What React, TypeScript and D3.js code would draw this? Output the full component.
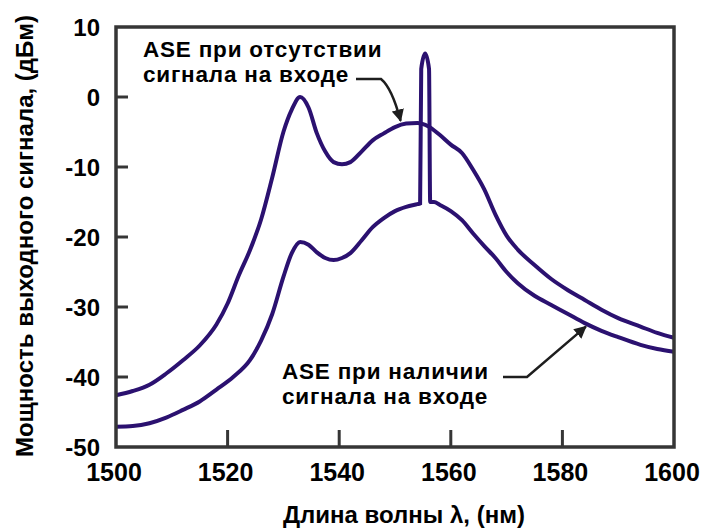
import React from "react";
import * as d3 from "d3";

// Wavelength (nm) and output power (dBm): ASE without input signal
const lambdaNoSignal = [1500, 1503, 1506, 1509, 1512, 1515, 1518, 1520, 1522, 1524, 1526, 1528, 1530, 1531.5, 1533, 1534.5, 1536, 1537.5, 1539, 1540.5, 1542, 1544, 1546, 1548, 1550, 1552, 1554, 1556, 1558, 1560, 1562, 1564, 1566, 1568, 1570, 1572, 1575, 1578, 1581, 1584, 1587, 1590, 1594, 1597, 1600];
const powerNoSignal = [-42.6, -42.0, -41.1, -39.5, -37.6, -35.5, -32.5, -29.5, -25.5, -21.9, -17.5, -11.5, -5.0, -1.8, 0, -1.5, -5.2, -7.8, -9.3, -9.6, -9.3, -7.8, -6.2, -5.2, -4.3, -3.8, -3.7, -4.2, -5.4, -6.8, -8.0, -10.4, -13.2, -16.8, -19.8, -21.8, -24.0, -26.0, -27.6, -29.0, -30.4, -31.6, -32.8, -33.7, -34.4];

// ASE with input signal (includes signal spike near 1555 nm)
const lambdaWithSignal = [1500, 1503, 1506, 1509, 1512, 1515, 1518, 1521, 1524, 1526, 1528, 1530, 1531.5, 1533, 1534.5, 1536, 1537.5, 1539, 1540.5, 1542, 1544, 1546, 1548, 1550, 1552, 1554, 1554.5, 1554.7, 1555.4, 1556.1, 1556.3, 1557, 1558, 1560, 1562, 1564, 1566, 1568, 1570, 1572, 1575, 1578, 1581, 1584, 1587, 1590, 1594, 1597, 1600];
const powerWithSignal = [-47.1, -47.0, -46.6, -45.8, -44.7, -43.5, -41.8, -40.0, -37.6, -34.8, -31.0, -25.7, -22.3, -20.7, -21.1, -22.2, -23.0, -23.3, -23.0, -22.3, -20.5, -18.6, -17.3, -16.3, -15.7, -15.3, -15.2, 4.0, 6.2, 4.0, -15.0, -15.0, -15.4, -16.3, -17.6, -19.5, -21.3, -23.0, -25.0, -26.6, -28.4, -29.7, -31.0, -32.3, -33.4, -34.3, -35.4, -36.0, -36.4];

const xTicks = [1500, 1520, 1540, 1560, 1580, 1600];
const yTicks = [10, 0, -10, -20, -30, -40, -50];

const annotationNoSignal = ["ASE при отсутствии", "сигнала на входе"];
const annotationWithSignal = ["ASE при наличии", "сигнала на входе"];
const yLabel = "Мощность выходного сигнала, (дБм)";
const xLabel = "Длина волны λ, (нм)";

const W = 702;
const H = 531;
const left = 116, right = 674, top = 27, bottom = 447;
const lineColor = "#2b1170";
const axisColor = "#363636";
const font = "'Liberation Sans', Arial, sans-serif";

export default function App() {
  const x = d3.scaleLinear().domain([1500, 1600]).range([left, right]);
  const y = d3.scaleLinear().domain([-50, 10]).range([bottom, top]);

  const line = d3
    .line<[number, number]>()
    .x((d) => x(d[0]))
    .y((d) => y(d[1]))
    .curve(d3.curveMonotoneX);

  const noSig = lambdaNoSignal.map((l, i) => [l, powerNoSignal[i]] as [number, number]);
  const withSig = lambdaWithSignal.map((l, i) => [l, powerWithSignal[i]] as [number, number]);

  // annotation arrow tips in data coordinates
  const tip1 = [x(1551), y(-3.4)];
  const tip2 = [x(1584.2), y(-32.8)];

  return (
    <svg
      width={W}
      height={H}
      style={{ position: "absolute", left: 0, top: 0, background: "#fff" }}
      fontFamily={font}
    >
      <defs>
        <marker id="ah" viewBox="0 0 10 10" refX="9" refY="5" markerWidth="5" markerHeight="5" orient="auto">
          <path d="M0,0 L10,5 L0,10 z" fill="#1e1e1e" />
        </marker>
      </defs>

      {/* curves */}
      <path d={line(noSig) || ""} fill="none" stroke={lineColor} strokeWidth={4} strokeLinejoin="round" />
      <path d={line(withSig) || ""} fill="none" stroke={lineColor} strokeWidth={4} strokeLinejoin="miter" />

      {/* frame */}
      <rect x={left} y={top} width={right - left} height={bottom - top} fill="none" stroke={axisColor} strokeWidth={3.5} />

      {/* y ticks */}
      {yTicks.map((t) => (
        <g key={"y" + t}>
          {t < 10 && t > -50 && (
            <line x1={left} x2={left + 12} y1={y(t)} y2={y(t)} stroke={axisColor} strokeWidth={3} />
          )}
          <text x={100} y={y(t)} dy="0.36em" textAnchor="end" fontSize={24} fontWeight="bold" fill="#000">
            {t}
          </text>
        </g>
      ))}

      {/* x ticks */}
      {xTicks.map((t) => (
        <g key={"x" + t}>
          {t > 1500 && t < 1600 && (
            <line x1={x(t)} x2={x(t)} y1={bottom} y2={bottom - 17} stroke={axisColor} strokeWidth={3} />
          )}
          <text x={x(t) - 2} y={481} textAnchor="middle" fontSize={25} fontWeight="bold" fill="#000">
            {t}
          </text>
        </g>
      ))}

      {/* axis titles */}
      <text
        transform={`translate(33, ${(top + bottom) / 2 - 1}) rotate(-90)`}
        textAnchor="middle"
        fontSize={24}
        fontWeight="bold"
        fill="#000"
      >
        {yLabel}
      </text>
      <text x={283} y={523} textAnchor="start" fontSize={24} fontWeight="bold" fill="#000">
        {xLabel}
      </text>

      {/* annotation: without signal */}
      <text x={143} y={57} fontSize={22.5} fontWeight="bold" letterSpacing={0.8} fill="#000">
        {annotationNoSignal[0]}
      </text>
      <text x={143} y={82} fontSize={22.5} fontWeight="bold" letterSpacing={0.8} fill="#000">
        {annotationNoSignal[1]}
      </text>
      <path
        d={`M356,79 L381,79 Q392,88 ${tip1[0]},${tip1[1]}`}
        fill="none"
        stroke="#1e1e1e"
        strokeWidth={2.5}
        markerEnd="url(#ah)"
      />

      {/* annotation: with signal */}
      <text x={282} y={379} fontSize={22.5} fontWeight="bold" letterSpacing={0.8} fill="#000">
        {annotationWithSignal[0]}
      </text>
      <text x={282} y={404} fontSize={22.5} fontWeight="bold" letterSpacing={0.8} fill="#000">
        {annotationWithSignal[1]}
      </text>
      <path
        d={`M503,377 L527,377 L${tip2[0]},${tip2[1]}`}
        fill="none"
        stroke="#1e1e1e"
        strokeWidth={2.5}
        markerEnd="url(#ah)"
      />
    </svg>
  );
}
